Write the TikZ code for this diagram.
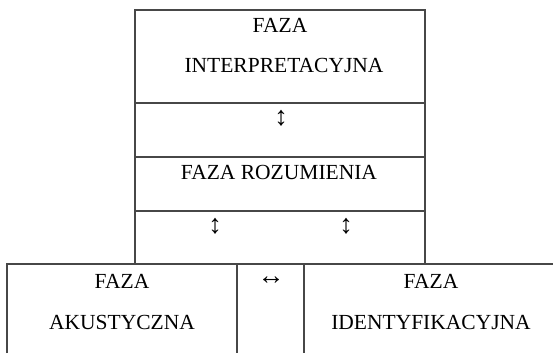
\documentclass[tikz,border=0pt]{standalone}
\usepackage{fontspec}
\setmainfont{Liberation Serif}
\begin{document}
\begin{tikzpicture}[x=1pt,y=-1pt,
  rule/.style={draw=black!72,line width=1.3pt},
  lbl/.style={anchor=base,inner sep=0pt,font=\fontsize{21.5}{24}\selectfont},
  arr/.style={anchor=center,inner sep=0pt,font=\fontsize{27}{30}\selectfont}]
\useasboundingbox (0,0) rectangle (553,353);
% upper frame
\draw[rule] (135,264) -- (135,10) -- (425,10) -- (425,264);
\draw[rule] (135,103) -- (425,103);
\draw[rule] (135,157) -- (425,157);
\draw[rule] (135,211) -- (425,211);
% lower frame
\draw[rule] (7,353) -- (7,264) -- (553,264);
\draw[rule] (237,264) -- (237,353);
\draw[rule] (304,264) -- (304,353);
% texts
\node[lbl] (f1) at (280,33) {FAZA};
\node[lbl] (interp) at (284,72) {INTERPRETACYJNA};
\node[arr] (a1) at (281,118) {↕};
\node[lbl] (roz) at (279,179) {FAZA ROZUMIENIA};
\node[arr] (a2) at (215,226) {↕};
\node[arr] (a3) at (346,226) {↕};
\node[lbl] (f2) at (122,288) {FAZA};
\node[lbl] (aku) at (122,329) {AKUSTYCZNA};
\node[arr] (a4) at (271,281) {↔};
\node[lbl] (f3) at (431,288) {FAZA};
\node[lbl] (ident) at (431,329) {IDENTYFIKACYJNA};
\end{tikzpicture}
\end{document}
